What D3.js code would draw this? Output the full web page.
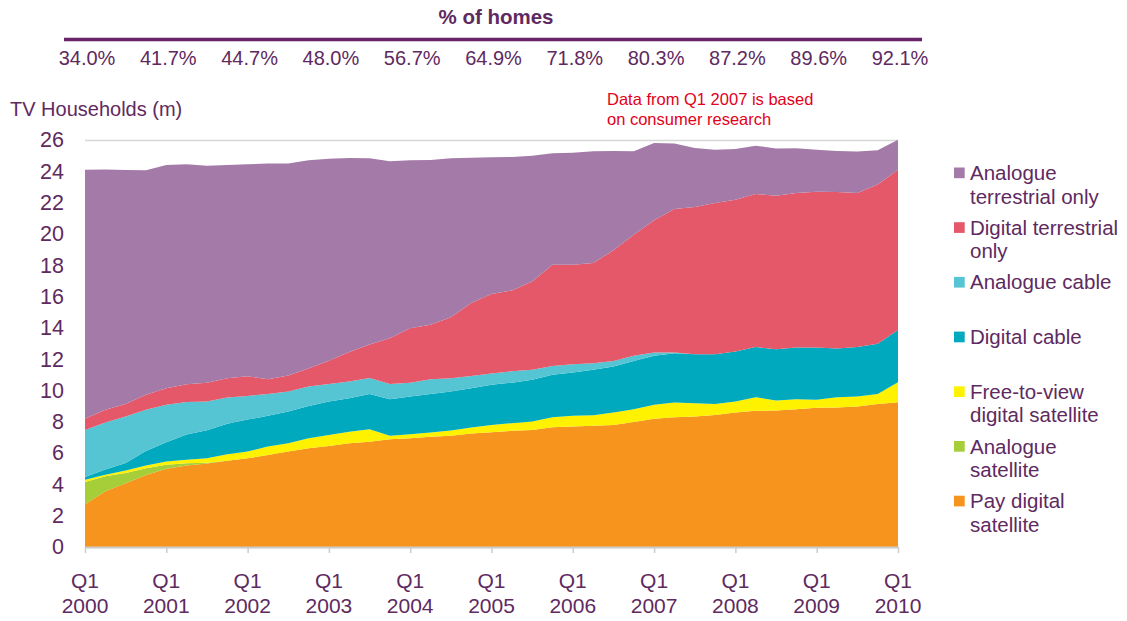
<!DOCTYPE html>
<html><head><meta charset="utf-8">
<script src="https://cdn.jsdelivr.net/npm/d3@7"></script>
<style>
body{margin:0;background:#fff}
svg{display:block}
text{font-family:"Liberation Sans",Arial,Helvetica,sans-serif}
</style>
</head><body>
<svg id="chart" width="1127" height="621"></svg>
<script>
// ---------- DATA ----------
const quarters = [
 "Q1 2000","Q2 2000","Q3 2000","Q4 2000","Q1 2001","Q2 2001","Q3 2001","Q4 2001",
 "Q1 2002","Q2 2002","Q3 2002","Q4 2002","Q1 2003","Q2 2003","Q3 2003","Q4 2003",
 "Q1 2004","Q2 2004","Q3 2004","Q4 2004","Q1 2005","Q2 2005","Q3 2005","Q4 2005",
 "Q1 2006","Q2 2006","Q3 2006","Q4 2006","Q1 2007","Q2 2007","Q3 2007","Q4 2007",
 "Q1 2008","Q2 2008","Q3 2008","Q4 2008","Q1 2009","Q2 2009","Q3 2009","Q4 2009",
 "Q1 2010"];
const payDigitalSatellite = [2.73,3.56,4.07,4.6,5.0,5.2,5.33,5.51,5.67,5.88,6.1,6.31,6.46,6.63,6.73,6.88,6.95,7.05,7.1,7.25,7.33,7.42,7.48,7.65,7.69,7.74,7.8,7.99,8.2,8.29,8.33,8.44,8.59,8.7,8.72,8.8,8.89,8.91,8.97,9.14,9.25];
const analogueSatellite = [1.42,0.96,0.65,0.43,0.26,0.15,0.05,0,0,0,0,0,0,0,0,0,0,0,0,0,0,0,0,0,0,0,0,0,0,0,0,0,0,0,0,0,0,0,0,0,0];
const freeToViewSatellite = [0.15,0.10,0.17,0.18,0.2,0.23,0.29,0.41,0.43,0.54,0.53,0.64,0.7,0.74,0.8,0.22,0.25,0.26,0.34,0.38,0.47,0.49,0.53,0.64,0.69,0.68,0.79,0.81,0.88,0.94,0.86,0.70,0.70,0.87,0.64,0.64,0.51,0.66,0.64,0.64,1.28];
const digitalCable = [0.17,0.33,0.48,0.92,1.23,1.6,1.79,1.96,2.04,1.96,2.02,2.05,2.13,2.13,2.25,2.34,2.41,2.47,2.49,2.51,2.56,2.59,2.67,2.71,2.77,2.9,2.94,3.09,3.13,3.15,3.13,3.18,3.2,3.2,3.28,3.3,3.34,3.11,3.16,3.2,3.34];
const analogueCable = [3.01,3.0,2.96,2.63,2.39,2.09,1.83,1.67,1.51,1.4,1.28,1.25,1.13,1.07,1.02,0.98,0.89,0.94,0.85,0.79,0.72,0.73,0.64,0.57,0.53,0.42,0.36,0.32,0.22,0.05,0,0,0,0,0,0,0,0,0,0,0];
const digitalTerrestrial = [0.72,0.81,0.81,0.96,1.06,1.13,1.21,1.23,1.25,0.94,1.02,1.15,1.48,1.88,2.14,2.92,3.48,3.47,3.9,4.65,5.08,5.16,5.64,6.46,6.35,6.4,7.06,7.74,8.45,9.17,9.4,9.65,9.7,9.78,9.8,9.87,9.96,10.0,9.84,10.17,10.23];
const analogueTerrestrial = [15.9,15.36,14.94,14.34,14.26,14.05,13.86,13.62,13.55,13.78,13.55,13.3,12.9,12.4,11.89,11.3,10.72,10.53,10.15,9.29,8.74,8.52,8.04,7.12,7.16,7.14,6.35,5.33,4.93,4.18,3.77,3.41,3.24,3.09,3.01,2.86,2.68,2.62,2.65,2.19,1.92];

const yearLabels = ["2000","2001","2002","2003","2004","2005","2006","2007","2008","2009","2010"];
const pctHomes = ["34.0%","41.7%","44.7%","48.0%","56.7%","64.9%","71.8%","80.3%","87.2%","89.6%","92.1%"];
const yTicks = [0,2,4,6,8,10,12,14,16,18,20,22,24,26];

const seriesKeys = ["pay","anSat","ftv","digCable","anCable","digTerr","anTerr"];
const seriesNames = {
  anTerr:["Analogue","terrestrial only"],
  digTerr:["Digital terrestrial","only"],
  anCable:["Analogue cable"],
  digCable:["Digital cable"],
  ftv:["Free-to-view","digital satellite"],
  anSat:["Analogue","satellite"],
  pay:["Pay digital","satellite"]
};
const colors = {
  pay:"#F7941E", anSat:"#A6CE39", ftv:"#FFF200", digCable:"#00A9BE",
  anCable:"#55C5D3", digTerr:"#E45869", anTerr:"#A47BA8"
};
const seriesData = {
  pay:payDigitalSatellite, anSat:analogueSatellite, ftv:freeToViewSatellite,
  digCable:digitalCable, anCable:analogueCable, digTerr:digitalTerrestrial, anTerr:analogueTerrestrial
};

// ---------- CHART ----------
(function(){
const purple = "#5E2A60";
const svg = d3.select("#chart");
const mLeft = 85, mRight = 898, mTop = 140, mBottom = 547;

const x = d3.scalePoint().domain(quarters).range([mLeft, mRight]);
const y = d3.scaleLinear().domain([0, 26]).range([mBottom, mTop]);

const rows = quarters.map((q, i) => {
  const r = {q};
  seriesKeys.forEach(k => r[k] = seriesData[k][i]);
  return r;
});
const stacked = d3.stack().keys(seriesKeys)(rows);

// gridlines
svg.append("g")
  .attr("transform", `translate(${mLeft},0)`)
  .call(d3.axisLeft(y).tickValues(yTicks).tickSize(-(mRight - mLeft)).tickFormat(""))
  .call(g => g.select(".domain").remove())
  .call(g => g.selectAll("line").attr("stroke", "#d6d6d6").attr("stroke-width", 1.5));

// areas
const area = d3.area()
  .x(d => x(d.data.q))
  .y0(d => y(d[0]))
  .y1(d => y(d[1]));
svg.append("g").selectAll("path").data(stacked).join("path")
  .attr("fill", d => colors[d.key])
  .attr("d", area);

// y axis labels
svg.append("g")
  .attr("transform", `translate(${mLeft},0)`)
  .call(d3.axisLeft(y).tickValues(yTicks).tickSize(0).tickPadding(21))
  .call(g => g.select(".domain").remove())
  .call(g => g.selectAll("text")
    .attr("fill", purple).style("font-size", "21.5px")
    .style("font-family", '"Liberation Sans",Arial,sans-serif'));

// x axis
const q1s = quarters.filter(q => q.startsWith("Q1"));
const xAxis = svg.append("g")
  .attr("transform", `translate(0,${mBottom})`)
  .call(d3.axisBottom(x).tickValues(q1s).tickSize(6).tickSizeOuter(0).tickFormat(""));
xAxis.select(".domain").attr("stroke", "#cccccc").attr("stroke-width", 2);
xAxis.selectAll(".tick line").attr("stroke", "#cccccc").attr("stroke-width", 1.5);

const xl = svg.append("g").selectAll("text").data(q1s).join("text")
  .attr("x", d => x(d)).attr("text-anchor", "middle")
  .attr("fill", purple).style("font-size", "21px");
xl.append("tspan").attr("x", d => x(d)).attr("y", 588).text("Q1");
xl.append("tspan").attr("x", d => x(d)).attr("y", 613).text((d, i) => yearLabels[i]);

// header
svg.append("text").attr("x", 496).attr("y", 24).attr("text-anchor", "middle")
  .attr("fill", purple).style("font-size", "20.5px").style("font-weight", "bold")
  .text("% of homes");
svg.append("line").attr("x1", 64).attr("x2", 922).attr("y1", 39.5).attr("y2", 39.5)
  .attr("stroke", "#68236A").attr("stroke-width", 3.5);
svg.append("g").selectAll("text").data(q1s).join("text")
  .attr("x", d => x(d) + 2).attr("y", 65).attr("text-anchor", "middle")
  .attr("fill", purple).style("font-size", "20px")
  .text((d, i) => pctHomes[i]);

// y title
svg.append("text").attr("x", 10).attr("y", 116)
  .attr("fill", purple).style("font-size", "20px")
  .text("TV Households (m)");

// annotation
const note = svg.append("text").attr("fill", "#E2001A").style("font-size", "16.5px");
note.append("tspan").attr("x", 607).attr("y", 105).text("Data from Q1 2007 is based");
note.append("tspan").attr("x", 607).attr("y", 125).text("on consumer research");

// legend
const legendOrder = ["anTerr","digTerr","anCable","digCable","ftv","anSat","pay"];
const lg = svg.append("g").selectAll("g").data(legendOrder).join("g")
  .attr("transform", (d, i) => `translate(0,${180 + i * 54.7})`);
lg.append("rect").attr("x", 954).attr("y", -12.5).attr("width", 10.7).attr("height", 10.7)
  .attr("fill", d => colors[d]);
lg.each(function(d) {
  const t = d3.select(this).append("text").attr("fill", purple).style("font-size", "20.5px");
  seriesNames[d].forEach((line, j) => {
    t.append("tspan").attr("x", 970).attr("y", j * 23.5).text(line);
  });
});
})();
</script>
</body></html>
